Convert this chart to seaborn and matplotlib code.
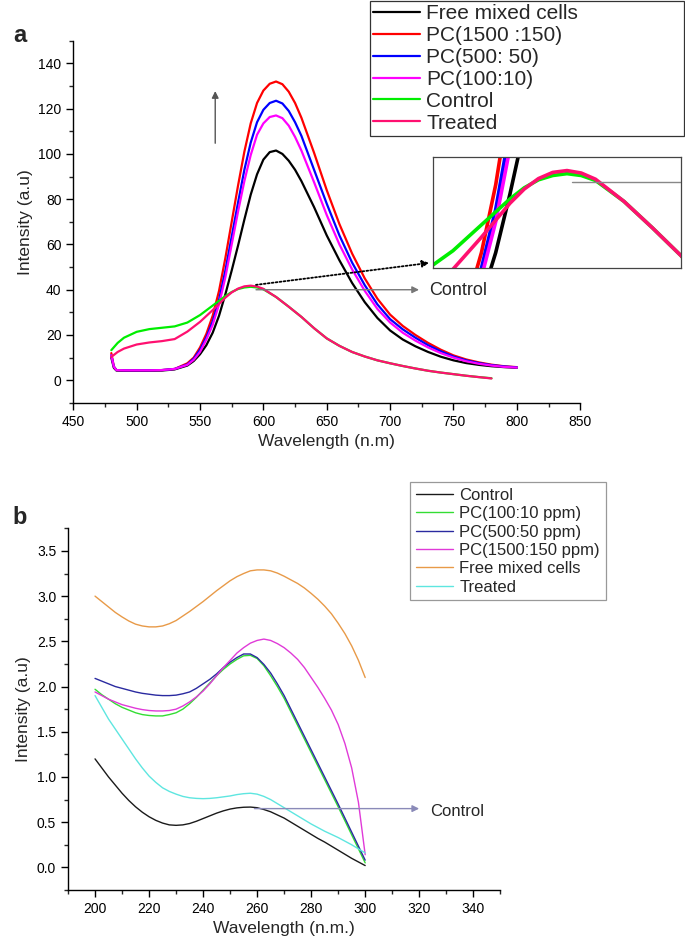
import matplotlib
matplotlib.use("Agg")
import matplotlib.pyplot as plt
import seaborn as sns
from matplotlib.ticker import MultipleLocator

# ---- panel a : emission spectra ----
wl_a = [480, 482, 484, 490, 500, 510, 520, 530, 540,
        545, 550, 555, 560, 565, 570, 575, 580, 585, 590, 595, 600, 605, 610, 615, 620, 625, 630,
        640, 650, 660, 670, 680, 690, 700, 710, 720, 730, 740, 750, 760, 770, 780, 790, 800]
free_a = [10, 5.5, 4.3, 4.2, 4.2, 4.2, 4.3, 4.8, 6.5,
          8.5, 11.5, 15.5, 21, 28.5, 38, 48.5, 59.5, 71, 82, 91, 97.5, 100.8, 101.5, 100, 97, 93, 88,
          76.5, 64, 53, 43, 34.5, 27.5, 22, 18, 15, 12.5, 10.4, 8.8, 7.6, 6.8, 6.2, 5.8, 5.5]
pc1500_a = [12, 6, 4.5, 4.4, 4.4, 4.4, 4.5, 5.0, 7.5,
            10, 14.5, 20.5, 28.5, 39.5, 54, 70, 86, 101, 113.5, 122.5, 128, 131, 132, 130.8, 127.5, 122.5, 116,
            100.5, 84, 69, 56, 45, 36, 29, 24, 20, 16.5, 13.5, 11, 9.2, 7.9, 6.9, 6.2, 5.8]
pc500_a = [11, 6, 4.5, 4.4, 4.4, 4.4, 4.5, 5.0, 7,
           9.5, 13.5, 19, 26, 35.5, 48.5, 63.5, 78.5, 93, 105, 114, 119.5, 122.5, 123.5, 122.3, 119, 114, 108,
           93, 78, 64, 52, 42, 33.5, 27, 22.5, 18.8, 15.5, 12.8, 10.5, 8.8, 7.6, 6.7, 6.1, 5.7]
pc100_a = [11, 6, 4.5, 4.4, 4.4, 4.4, 4.5, 5.0, 6.8,
           9, 12.5, 18, 24.5, 33.5, 45.5, 60, 74.5, 88, 99.5, 108.5, 113.5, 116.3, 117, 115.8, 112.5, 107.5, 101.5,
           87.5, 73, 60, 49, 39.5, 31.5, 25.5, 21, 17.5, 14.5, 12, 10, 8.4, 7.3, 6.5, 5.9, 5.6]

wl_c = [480, 485, 490, 500, 510, 520, 530, 540, 550, 560, 570, 575, 580, 585, 590, 595, 600,
        610, 620, 630, 640, 650, 660, 670, 680, 690, 700, 710, 720, 730, 740, 750, 760, 770, 780]
control_a = [13.3, 16.5, 18.8, 21.4, 22.6, 23.2, 23.8, 25.5, 28.8, 33, 37.2, 39, 40.3, 41, 41.3, 41.0, 40.2,
             36.8, 32.5, 28, 23, 18.5, 15.2, 12.5, 10.5, 8.8, 7.5, 6.3, 5.2, 4.2, 3.4, 2.7, 2.0, 1.4, 0.9]
treated_a = [10.3, 12.5, 14, 15.8, 16.7, 17.3, 18.2, 21.5, 25.8, 31, 36.5, 38.8, 40.5, 41.5, 41.8, 41.4, 40.4,
             36.8, 32.5, 28, 23, 18.5, 15.2, 12.5, 10.5, 8.8, 7.5, 6.3, 5.2, 4.2, 3.4, 2.7, 2.0, 1.4, 0.8]

# ---- panel b : absorption spectra ----
wl_b = [200, 202.5, 205, 207.5, 210, 212.5, 215, 217.5, 220, 222.5,
        225, 227.5, 230, 232.5, 235, 237.5, 240, 242.5, 245, 247.5,
        250, 252.5, 255, 257.5, 260, 262.5, 265, 267.5, 270, 272.5,
        275, 277.5, 280, 282.5, 285, 287.5, 290, 292.5, 295, 297.5, 300]
control_b = [1.20, 1.10, 1.00, 0.91, 0.82, 0.74, 0.67, 0.61, 0.56, 0.52,
             0.49, 0.47, 0.465, 0.47, 0.485, 0.51, 0.54, 0.57, 0.60, 0.625,
             0.645, 0.658, 0.665, 0.667, 0.66, 0.64, 0.615, 0.58, 0.545, 0.50,
             0.455, 0.41, 0.365, 0.32, 0.28, 0.235, 0.19, 0.145, 0.10, 0.06, 0.02]
pc100_b = [1.97, 1.91, 1.86, 1.81, 1.77, 1.74, 1.71, 1.69, 1.68, 1.675,
           1.675, 1.69, 1.71, 1.75, 1.81, 1.88, 1.96, 2.04, 2.12, 2.19,
           2.25, 2.30, 2.34, 2.345, 2.31, 2.23, 2.12, 2.00, 1.87, 1.72,
           1.57, 1.42, 1.27, 1.12, 0.97, 0.82, 0.67, 0.515, 0.36, 0.205, 0.05]
pc500_b = [2.09, 2.06, 2.03, 2.00, 1.98, 1.96, 1.94, 1.925, 1.915, 1.905,
           1.90, 1.90, 1.905, 1.92, 1.94, 1.98, 2.03, 2.08, 2.14, 2.21,
           2.27, 2.32, 2.36, 2.36, 2.32, 2.245, 2.15, 2.03, 1.90, 1.75,
           1.60, 1.45, 1.30, 1.15, 1.00, 0.85, 0.70, 0.545, 0.39, 0.235, 0.08]
pc1500_b = [1.94, 1.90, 1.86, 1.83, 1.80, 1.78, 1.76, 1.745, 1.735, 1.73,
            1.73, 1.735, 1.75, 1.785, 1.83, 1.885, 1.95, 2.03, 2.12, 2.21,
            2.29, 2.37, 2.43, 2.48, 2.51, 2.525, 2.51, 2.475, 2.43, 2.37,
            2.30, 2.21, 2.10, 1.99, 1.87, 1.74, 1.58, 1.37, 1.10, 0.72, 0.14]
free_b = [3.00, 2.94, 2.88, 2.82, 2.77, 2.725, 2.69, 2.67, 2.66, 2.66,
          2.67, 2.695, 2.73, 2.78, 2.83, 2.885, 2.94, 3.00, 3.06, 3.115,
          3.17, 3.215, 3.25, 3.28, 3.29, 3.29, 3.28, 3.255, 3.22, 3.18,
          3.14, 3.09, 3.03, 2.965, 2.89, 2.805, 2.70, 2.585, 2.45, 2.29, 2.10]
treated_b = [1.90, 1.77, 1.64, 1.53, 1.42, 1.31, 1.20, 1.10, 1.01, 0.94,
             0.88, 0.84, 0.81, 0.785, 0.77, 0.763, 0.76, 0.763, 0.77, 0.78,
             0.79, 0.805, 0.815, 0.82, 0.81, 0.785, 0.75, 0.705, 0.66, 0.615,
             0.57, 0.525, 0.48, 0.44, 0.40, 0.365, 0.33, 0.29, 0.25, 0.205, 0.16]

sns.set_style("ticks")
plt.rcParams['font.family'] = ['Liberation Sans', 'DejaVu Sans']
plt.rcParams['xtick.direction'] = 'out'
plt.rcParams['ytick.direction'] = 'out'

fig = plt.figure(figsize=(6.85, 9.48), dpi=100)

series_a = [
    (wl_a, free_a, 'black', 'Free mixed cells'),
    (wl_a, pc1500_a, '#ff0000', 'PC(1500 :150)'),
    (wl_a, pc500_a, '#0000ff', 'PC(500: 50)'),
    (wl_a, pc100_a, '#ff00ff', 'PC(100:10)'),
    (wl_c, control_a, '#00ee00', 'Control'),
    (wl_c, treated_a, '#ff1070', 'Treated'),
]
series_b = [
    (control_b, '#1a1a1a', 'Control'),
    (pc100_b, '#33dd33', 'PC(100:10 ppm)'),
    (pc500_b, '#2a2aa0', 'PC(500:50 ppm)'),
    (pc1500_b, '#e03ad8', 'PC(1500:150 ppm)'),
    (free_b, '#e89a48', 'Free mixed cells'),
    (treated_b, '#5ee6e0', 'Treated'),
]


def style_axes(ax, xmaj, xmin, ymaj, ymin):
    sns.despine(ax=ax)
    for s in ['left', 'bottom']:
        ax.spines[s].set_linewidth(1.0)
        ax.spines[s].set_color('black')
    ax.xaxis.set_major_locator(MultipleLocator(xmaj))
    ax.xaxis.set_minor_locator(MultipleLocator(xmin))
    ax.yaxis.set_major_locator(MultipleLocator(ymaj))
    ax.yaxis.set_minor_locator(MultipleLocator(ymin))
    ax.tick_params(which='major', length=5, width=1, labelsize=10, colors='black')
    ax.tick_params(which='minor', length=3, width=1)


# panel a
ax1 = fig.add_axes([0.107, 0.575, 0.740, 0.382])
for x, y, c, lab in series_a:
    sns.lineplot(x=x, y=y, color=c, lw=1.6, label=lab, ax=ax1, estimator=None)
ax1.set_xlim(450, 850)
ax1.set_ylim(-10, 150)
style_axes(ax1, 50, 25, 20, 10)
ax1.set_xlabel('Wavelength (n.m)', fontsize=12.5)
ax1.set_ylabel('Intensity (a.u)', fontsize=12.5)

ax1.annotate('', xy=(725, 40), xytext=(592, 40),
             arrowprops=dict(arrowstyle='-|>', color='#777777', lw=1, mutation_scale=10))
ax1.text(731, 39.5, 'Control', fontsize=13, va='center')
ax1.annotate('', xy=(733, 52), xytext=(592, 42),
             arrowprops=dict(arrowstyle='-|>', color='black', lw=1.3, ls=(0, (1, 1.2)),
                             mutation_scale=10))
ax1.annotate('', xy=(562, 129), xytext=(562, 103.5),
             arrowprops=dict(arrowstyle='-|>', color='#555555', lw=1, mutation_scale=10))

leg1 = ax1.legend(loc='upper left', bbox_to_anchor=(370 / 685, 0.5, 314 / 685, 0.5 - 1 / 948),
                  bbox_transform=fig.transFigure, mode='expand', fontsize=15, frameon=True,
                  fancybox=False, edgecolor='#333333', framealpha=1,
                  handlelength=2.25, handletextpad=0.3, labelspacing=0.14,
                  borderpad=0.15, borderaxespad=0)
leg1.get_frame().set_linewidth(0.9)

# inset zoom on the control peak
axin = fig.add_axes([433 / 685, 1 - 268 / 948, 248 / 685, 111 / 948])
for x, y, c, lab in series_a:
    sns.lineplot(x=x, y=y, color=c, lw=2.6, ax=axin, estimator=None, legend=False)
axin.axhline(40, xmin=0.56, xmax=1, color='#888888', lw=1)
axin.set_xlim(543, 630)
axin.set_ylim(26, 44)
axin.set_xticks([])
axin.set_yticks([])
axin.set_xlabel('')
axin.set_ylabel('')
for s in axin.spines.values():
    s.set_visible(True)
    s.set_color('#444444')
    s.set_linewidth(0.9)

# panel b
ax2 = fig.add_axes([0.0993, 0.0612, 0.631, 0.3815])
for y, c, lab in series_b:
    sns.lineplot(x=wl_b, y=y, color=c, lw=1.0, label=lab, ax=ax2, estimator=None)
ax2.set_xlim(190, 350)
ax2.set_ylim(-0.25, 3.75)
style_axes(ax2, 20, 10, 0.5, 0.25)
ax2.set_xlabel('Wavelength (n.m.)', fontsize=12.5)
ax2.set_ylabel('Intensity (a.u)', fontsize=12.5)
ax2.annotate('', xy=(321, 0.65), xytext=(258, 0.65),
             arrowprops=dict(arrowstyle='-|>', color='#8a8ab8', lw=1, mutation_scale=10))
ax2.text(324, 0.62, 'Control', fontsize=12, va='center')

leg2 = ax2.legend(loc='upper left', bbox_to_anchor=(410 / 685, 1 - 482 / 948),
                  bbox_transform=fig.transFigure, fontsize=12, frameon=True,
                  fancybox=False, edgecolor='#999999', framealpha=1,
                  handlelength=2.2, handletextpad=0.4, labelspacing=0.2,
                  borderpad=0.35, borderaxespad=0)
leg2.get_frame().set_linewidth(0.9)

fig.text(0.029, 0.963, 'a', fontsize=17, fontweight='bold', ha='center', va='center')
fig.text(0.029, 0.4536, 'b', fontsize=17, fontweight='bold', ha='center', va='center')

fig.savefig('out.png', dpi=100)
